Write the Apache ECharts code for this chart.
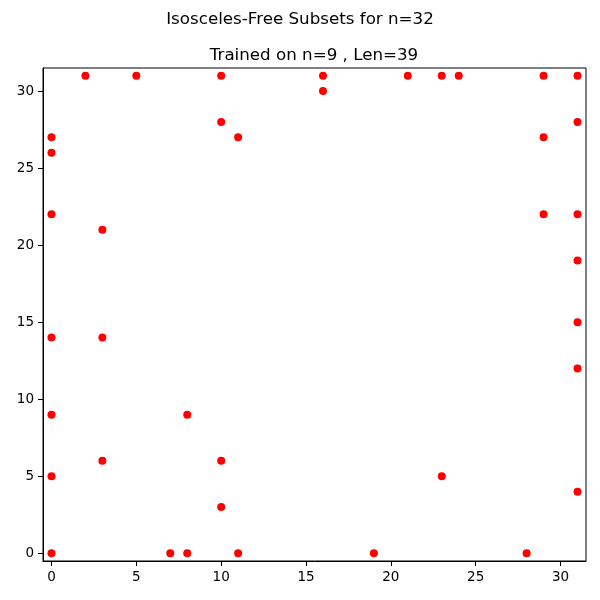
<!DOCTYPE html>
<html>
<head>
<meta charset="utf-8">
<script src="https://cdn.jsdelivr.net/npm/echarts@6/dist/echarts.min.js"></script>
<style>
  html, body { margin: 0; padding: 0; background: #fff; }
  #chart { width: 600px; height: 600px; }
</style>
</head>
<body>
<div id="chart"></div>
<script>
// points of the subset (x, y)
const xValues = [0, 0, 0, 0, 0, 0, 0,
  2, 5, 10, 16, 21, 23, 24, 29, 31,
  16, 10, 11, 29, 31,
  3, 3, 3,
  29, 31, 31, 31, 31,
  8, 10, 10, 23, 31,
  7, 8, 11, 19, 28];
const yValues = [0, 5, 9, 14, 22, 26, 27,
  31, 31, 31, 31, 31, 31, 31, 31, 31,
  30, 28, 27, 27, 28,
  21, 14, 6,
  22, 22, 19, 15, 12,
  9, 6, 3, 5, 4,
  0, 0, 0, 0, 0];
const tickValues = [0, 5, 10, 15, 20, 25, 30];

const points = xValues.map((x, i) => [x, yValues[i]]);

const chart = echarts.init(document.getElementById('chart'));
const font = 'DejaVu Sans';

const axisCommon = {
  type: 'value',
  min: -0.5,
  max: 31.5,
  axisLine: { show: true, onZero: false, lineStyle: { color: '#000', width: 1 } },
  axisTick: { show: true, customValues: tickValues, length: 5, lineStyle: { color: '#000' } },
  axisLabel: { customValues: tickValues, color: '#000', fontSize: 13.5, fontFamily: font, margin: 9 },
  splitLine: { show: false }
};

chart.setOption({
  animation: false,
  title: [
    {
      text: 'Isosceles-Free Subsets for n=32',
      left: 295, top: 6, textAlign: 'center',
      textStyle: { fontSize: 16.7, fontWeight: 'normal', fontFamily: font, color: '#000' }
    },
    {
      text: 'Trained on n=9 , Len=39',
      left: 309, top: 42, textAlign: 'center',
      textStyle: { fontSize: 16.7, fontWeight: 'normal', fontFamily: font, color: '#000' }
    }
  ],
  grid: {
    left: 43, right: 14, top: 68, bottom: 39,
    show: true, borderColor: '#000', borderWidth: 1, backgroundColor: 'transparent'
  },
  xAxis: axisCommon,
  yAxis: axisCommon,
  series: [{
    type: 'scatter',
    data: points,
    symbol: 'circle',
    symbolSize: 8,
    itemStyle: { color: '#ff0000', opacity: 1 }
  }]
});
</script>
</body>
</html>
